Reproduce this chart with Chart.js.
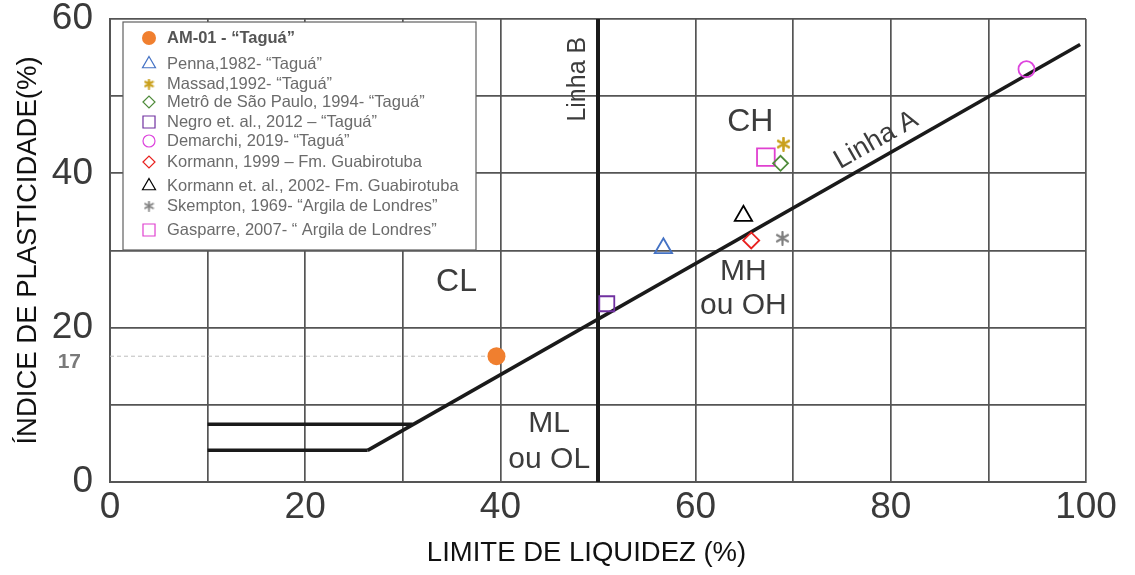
<!DOCTYPE html>
<html>
<head>
<meta charset="utf-8">
<script src="https://cdn.jsdelivr.net/npm/chart.js@4.4.1/dist/chart.umd.min.js"></script>
<style>
    html, body { margin: 0; padding: 0; background: #fff; }
    #wrap { width: 1135px; height: 575px; }
</style>
</head>
<body>
<div id="wrap"><canvas id="plasticidade"></canvas></div>
<script>
"use strict";

// --- data ---
const seriesNames = [
    'AM-01 - \u201cTaguá\u201d',
    'Penna,1982- \u201cTaguá\u201d',
    'Massad,1992- \u201cTaguá\u201d',
    'Metrô de São Paulo, 1994- \u201cTaguá\u201d',
    'Negro et. al., 2012 \u2013 \u201cTaguá\u201d',
    'Demarchi, 2019- \u201cTaguá\u201d',
    'Kormann, 1999 \u2013 Fm. Guabirotuba',
    'Kormann et. al., 2002- Fm. Guabirotuba',
    'Skempton, 1969- \u201cArgila de Londres\u201d',
    'Gasparre, 2007- \u201c Argila de Londres\u201d'
];
const limiteLiquidez = [39.6, 56.7, 69.0, 68.7, 50.9, 93.9, 65.7, 64.9, 68.9, 67.2];
const indicePlasticidade = [16.3, 30.3, 43.8, 41.3, 23.1, 53.5, 31.3, 34.5, 31.6, 42.1];

// Linha A e limites CL-ML
const linhaA_LL = [26.4, 99.4];
const linhaA_IP = [4.1, 56.7];
const faixaInf_LL = [10, 26.4];
const faixaInf_IP = [4.1, 4.1];
const faixaSup_LL = [10, 31];
const faixaSup_IP = [7.5, 7.5];
const linhaB_LL = [50, 50];
const linhaB_IP = [0, 60];
const refAM01_LL = [0, 39.6];
const refAM01_IP = [16.3, 16.3];
const refAM01_label = '17';

const xTickLabels = [0, 20, 40, 60, 80, 100];
const yTickLabels = [0, 20, 40, 60];

// --- styles ---
// asterisk marker (6 spokes) drawn on a small canvas
function asterisk(color, size, width) {
    const c = document.createElement('canvas');
    c.width = size;
    c.height = size;
    const g = c.getContext('2d');
    g.strokeStyle = color;
    g.lineWidth = width;
    g.lineCap = 'round';
    const r = size / 2 - width / 2;
    g.beginPath();
    [90, 30, 150].forEach(a => {
        const rad = a * Math.PI / 180;
        g.moveTo(size / 2 - Math.cos(rad) * r, size / 2 - Math.sin(rad) * r);
        g.lineTo(size / 2 + Math.cos(rad) * r, size / 2 + Math.sin(rad) * r);
    });
    g.stroke();
    return c;
}

const markerColor = ['#f07f2f', '#4472c4', '#c9a01c', '#4e8b3a', '#7030a0', '#dd44dd', '#e8201e', '#000000', '#7f7f7f', '#e040d0'];
const markerStyle = ['circle', 'triangle', asterisk('#c9a01c', 15, 2.6), 'rectRot', 'rect', 'circle', 'rectRot', 'triangle', asterisk('#7f7f7f', 15, 2.2), 'rect'];
const legendStyle = ['circle', 'triangle', asterisk('#c9a01c', 11, 2.2), 'rectRot', 'rect', 'circle', 'rectRot', 'triangle', asterisk('#7f7f7f', 11, 1.8), 'rect'];
const markerSize = [9, 10, 7, 7.5, 10.6, 8, 8, 10, 7, 12.5];
const legendSize = [7, 7.5, 5, 6, 8.5, 6, 6, 7.5, 5, 8.5];
const markerFilled = [true, false, false, false, false, false, false, false, false, false];

const xy = (xs, ys) => xs.map((x, i) => ({ x: x, y: ys[i] }));

const lineDataset = (xs, ys, width, extra) => Object.assign({
    data: xy(xs, ys),
    showLine: true,
    borderColor: '#1a1a1a',
    borderWidth: width,
    pointRadius: 0,
    order: 10
}, extra || {});

const datasets = [
    lineDataset(refAM01_LL, refAM01_IP, 1, { borderColor: '#bdbdbd', borderDash: [4, 3] }),
    lineDataset(linhaA_LL, linhaA_IP, 3.5),
    lineDataset(faixaInf_LL, faixaInf_IP, 3.5),
    lineDataset(faixaSup_LL, faixaSup_IP, 3.5),
    lineDataset(linhaB_LL, linhaB_IP, 4)
];

seriesNames.forEach((name, i) => {
    datasets.push({
        label: name,
        data: [{ x: limiteLiquidez[i], y: indicePlasticidade[i] }],
        pointStyle: markerStyle[i],
        pointRadius: markerSize[i],
        pointBorderWidth: markerFilled[i] ? 0 : 1.8,
        pointBorderColor: markerColor[i],
        pointBackgroundColor: markerFilled[i] ? markerColor[i] : 'rgba(0,0,0,0)',
        order: 0
    });
});

// text inside the plot, placed in data coordinates
const plotTexts = [
    { text: 'CH', x: 65.6, y: 46.6, size: 32 },
    { text: 'CL', x: 35.5, y: 25.9, size: 32 },
    { text: 'MH', x: 64.9, y: 27.3, size: 30 },
    { text: 'ou OH', x: 64.9, y: 22.8, size: 30 },
    { text: 'ML', x: 45.0, y: 7.6, size: 30 },
    { text: 'ou OL', x: 45.0, y: 2.9, size: 30 },
    { text: 'Linha B', x: 48.0, y: 52.2, size: 25, rotate: -90 },
    { text: 'Linha A', x: 78.5, y: 44.3, size: 27, rotate: -29.6 }
];

const annotations = {
    id: 'annotations',
    afterDatasetsDraw(chart) {
        const { ctx, scales: { x, y } } = chart;
        ctx.save();
        ctx.fillStyle = '#3c3c3c';
        ctx.textAlign = 'center';
        ctx.textBaseline = 'middle';
        plotTexts.forEach(t => {
            ctx.save();
            ctx.translate(x.getPixelForValue(t.x), y.getPixelForValue(t.y));
            if (t.rotate) ctx.rotate(t.rotate * Math.PI / 180);
            ctx.font = t.size + 'px "Liberation Sans", Arial, sans-serif';
            ctx.fillText(t.text, 0, 0);
            ctx.restore();
        });

        // label for the AM-01 reference line
        ctx.fillStyle = '#7a7a7a';
        ctx.font = 'bold 21px "Liberation Sans", Arial, sans-serif';
        ctx.textAlign = 'right';
        ctx.fillText(refAM01_label, 81, y.getPixelForValue(refAM01_IP[0]) + 6);
        ctx.restore();
    }
};

const boxLegend = {
    id: 'boxLegend',
    afterDraw(chart) {
        const ctx = chart.ctx;
        const left = 123, top = 22, width = 353, height = 228;
        ctx.save();
        ctx.fillStyle = '#ffffff';
        ctx.fillRect(left, top, width, height);
        ctx.strokeStyle = '#606060';
        ctx.lineWidth = 1.2;
        ctx.strokeRect(left, top, width, height);

        const rows = [38, 64, 84, 102, 122, 141, 162, 186, 206, 230];
        seriesNames.forEach((name, i) => {
            const cy = rows[i];
            ctx.save();
            ctx.strokeStyle = markerColor[i];
            ctx.fillStyle = markerFilled[i] ? markerColor[i] : 'rgba(0,0,0,0)';
            Chart.helpers.drawPoint(ctx, {
                pointStyle: legendStyle[i],
                radius: legendSize[i],
                rotation: 0,
                borderWidth: markerFilled[i] ? 0 : 1.6
            }, 149, cy);
            ctx.restore();

            ctx.textAlign = 'left';
            ctx.textBaseline = 'middle';
            if (i === 0) {
                ctx.font = 'bold 16.5px "Liberation Sans", Arial, sans-serif';
                ctx.fillStyle = '#555555';
            } else {
                ctx.font = '16.5px "Liberation Sans", Arial, sans-serif';
                ctx.fillStyle = '#6b6b6b';
            }
            ctx.fillText(name, 167, cy);
        });
        ctx.restore();
    }
};

const tickFont = { family: '"Liberation Sans", Arial, sans-serif', size: 37 };

new Chart(document.getElementById('plasticidade'), {
    type: 'scatter',
    data: { datasets: datasets },
    options: {
        responsive: true,
        maintainAspectRatio: false,
        animation: false,
        layout: { padding: { top: 19, right: 49, left: 0, bottom: 0 } },
        plugins: {
            legend: { display: false },
            tooltip: { enabled: false }
        },
        scales: {
            x: {
                type: 'linear',
                min: 0,
                max: 100,
                afterFit: s => { s.height = 93; },
                ticks: {
                    stepSize: 10,
                    autoSkip: false,
                    maxRotation: 0,
                    padding: 4,
                    color: '#3a3a3a',
                    font: tickFont,
                    callback: v => xTickLabels.includes(v) ? v : ''
                },
                grid: { color: '#555555', lineWidth: 1.7, drawTicks: false },
                border: { color: '#555555', width: 2 },
                title: {
                    display: true,
                    // trailing spaces nudge the centred title a little to the left, as in the source
                    text: 'LIMITE DE LIQUIDEZ (%)   ',
                    color: '#111',
                    font: { family: '"Liberation Sans", Arial, sans-serif', size: 27.5 },
                    padding: { bottom: 5 }
                }
            },
            y: {
                type: 'linear',
                min: 0,
                max: 60,
                afterFit: s => { s.width = 110; s.paddingTop = 0; s.paddingBottom = 0; },
                ticks: {
                    stepSize: 10,
                    autoSkip: false,
                    padding: 17,
                    color: '#3a3a3a',
                    font: tickFont,
                    callback: v => yTickLabels.includes(v) ? v : ''
                },
                grid: { color: '#555555', lineWidth: 1.7, drawTicks: false },
                border: { color: '#555555', width: 2 },
                title: {
                    display: true,
                    text: 'ÍNDICE DE PLASTICIDADE(%)',
                    color: '#111',
                    font: { family: '"Liberation Sans", Arial, sans-serif', size: 27.5 },
                    padding: { top: 12 }
                }
            }
        }
    },
    plugins: [annotations, boxLegend]
});
</script>
</body>
</html>
